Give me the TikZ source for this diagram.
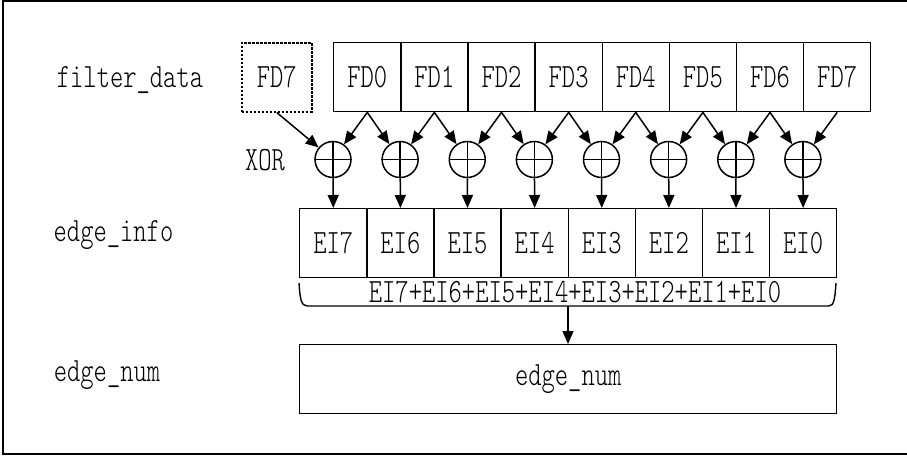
\documentclass[tikz,border=0pt]{standalone}
\usepackage{fontspec}
\newfontfamily\simfont{lmmonolt10-regular.otf}[FakeStretch=0.745]
\usetikzlibrary{arrows.meta}
\begin{document}
\begin{tikzpicture}[x=1pt,y=-1pt,
  every node/.style={font=\simfont\fontsize{34}{36}\selectfont},
  cell/.style={draw, line width=1.4pt, minimum width=67.125pt, minimum height=69pt, inner sep=0pt},
  xorc/.style={draw, circle, line width=1.5pt, minimum size=36pt, inner sep=0pt},
  arr/.style={line width=1.5pt, -{Triangle[length=13pt,width=11pt]}},
  lbl/.style={inner sep=0pt, anchor=base}]
\useasboundingbox (0,0) rectangle (907,455);
\draw[line width=1.6pt] (907,1) -- (3,1) -- (3,454) -- (907,454);
% left labels
\node[lbl] (lfd) at (130,87) {filter\_data};
\node[lbl] (lxor) at (265,170) {XOR};
\node[lbl] (lei) at (113.5,241) {edge\_info};
\node[lbl] (len) at (107,381) {edge\_num};
% dashed FD7
\node[cell, line width=1.5pt, dash pattern=on 2.5pt off 1.5pt, minimum width=70pt, anchor=north west] (dfd) at (241,42) {FD7};
% FD row
\foreach \k in {0,...,7}
  \node[cell, anchor=north west] (fd\k) at ({333+67.125*\k},42) {FD\k};
% XOR circles
\foreach \k in {0,...,7}{
  \node[xorc] (x\k) at ({333+67.125*\k},159.5) {};
  \draw[line width=1.5pt] (x\k.north) -- (x\k.south) (x\k.west) -- (x\k.east);
}
% EI row
\foreach \k [evaluate=\k as \m using int(7-\k)] in {0,...,7}
  \node[cell, anchor=north west] (ei\k) at ({299+67.125*\k},208) {EI\m};
% arrows FD -> XOR
\draw[arr] (dfd.south) -- (x0);
\foreach \k in {0,...,7}
  \draw[arr] (fd\k.south) -- (x\k);
\foreach \k [evaluate=\k as \n using int(\k+1)] in {0,...,6}
  \draw[arr] (fd\k.south) -- (x\n);
% XOR -> EI
\foreach \k in {0,...,7}
  \draw[arr] (x\k) -- (ei\k.north);
% brace
\draw[line width=1.4pt] (299,283) .. controls (300,298) and (301,306) .. (307,306) -- (829,306) .. controls (834,306) and (835,298) .. (836,283);
\node[lbl] (sum) at (575,302) {EI7+EI6+EI5+EI4+EI3+EI2+EI1+EI0};
\coordinate (bm) at (568,306);
% edge_num box
\node[cell, minimum width=537pt, anchor=north west] (en) at (299,344) {edge\_num};
\draw[arr] (bm) -- (bm |- en.north);
\end{tikzpicture}
\end{document}
